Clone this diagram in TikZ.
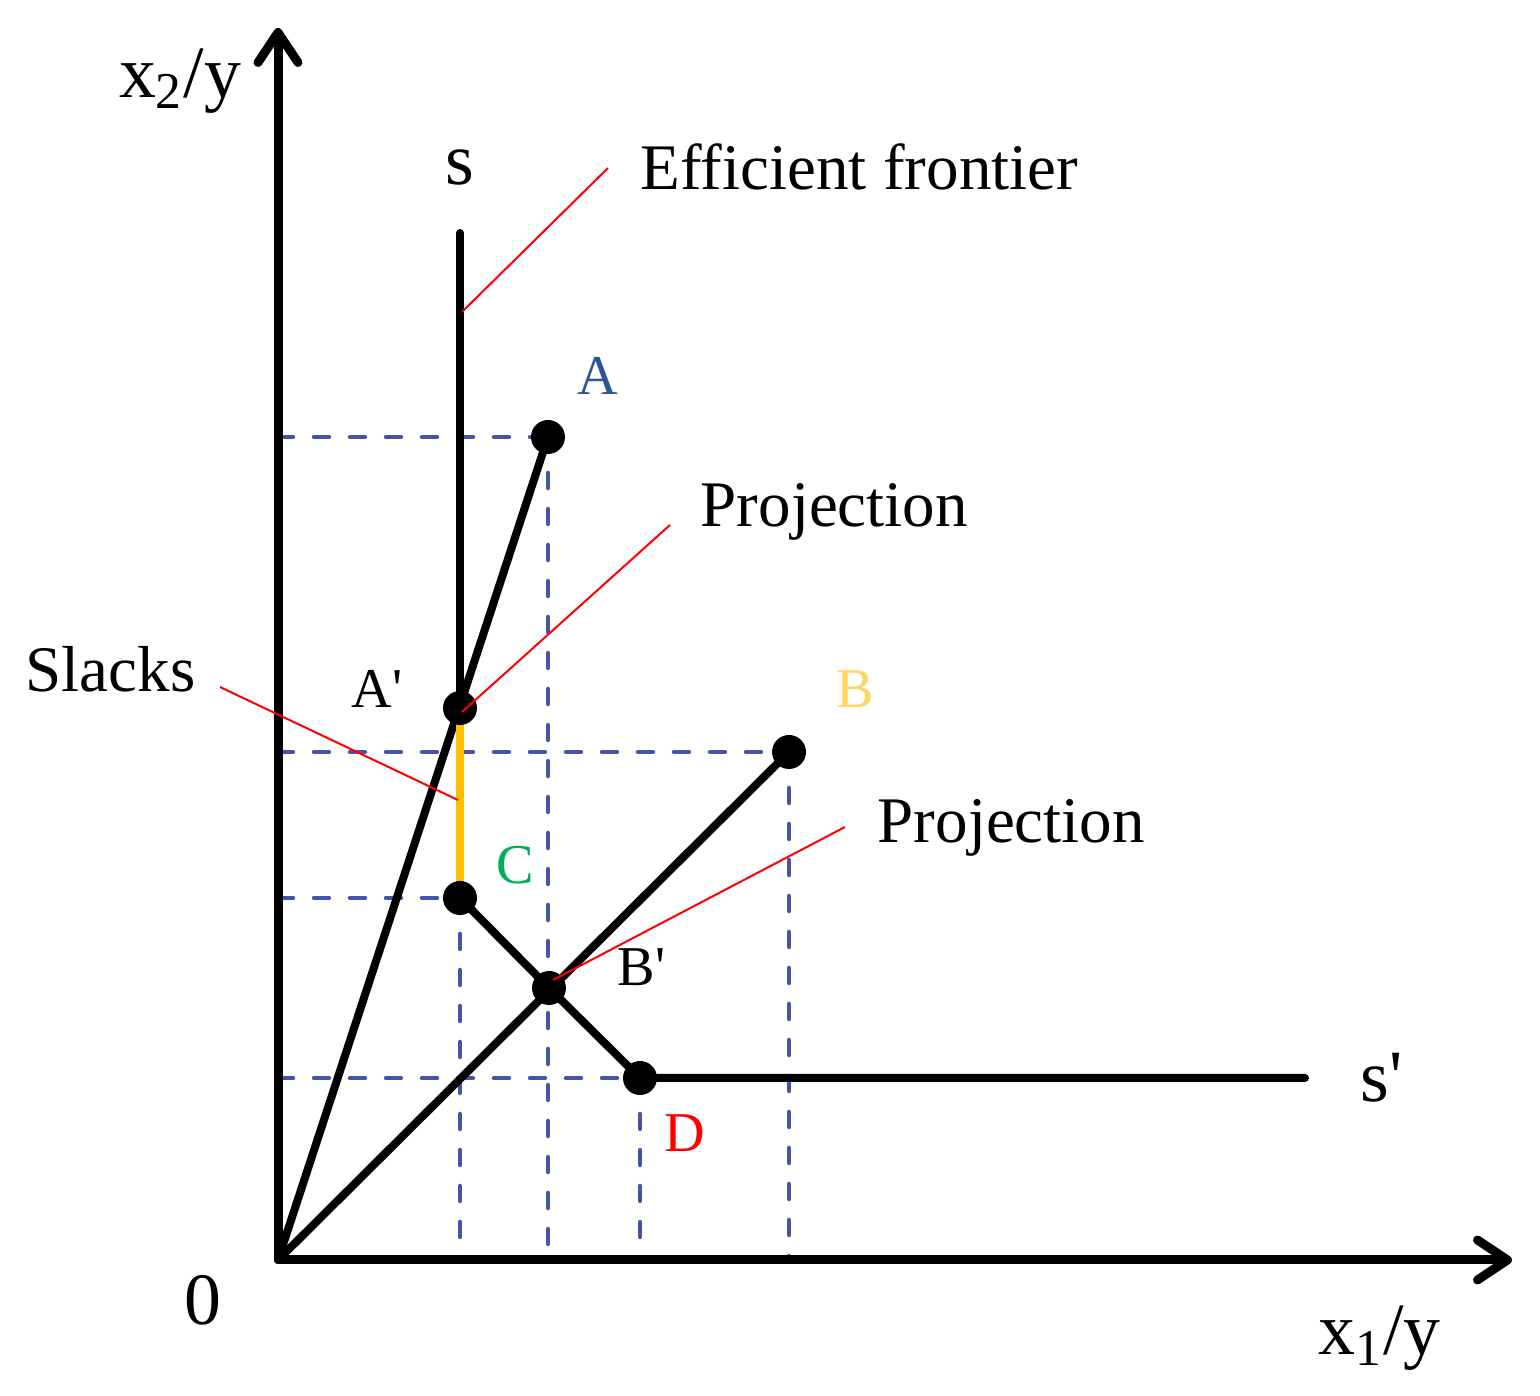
\documentclass[tikz,border=0pt]{standalone}
\usepackage{fontspec}
\setmainfont{Liberation Serif}
\usetikzlibrary{arrows.meta}

\definecolor{dashblue}{RGB}{68,84,168}
\definecolor{labelblue}{RGB}{47,85,151}
\definecolor{labelgold}{RGB}{255,214,100}
\definecolor{slackorange}{RGB}{255,192,0}
\definecolor{labelgreen}{RGB}{0,176,80}

\begin{document}
\begin{tikzpicture}[
    axis/.style={line width=0.09cm, -{Straight Barb[length=3mm, width=4mm, round]}},
    frontier/.style={line width=0.08cm, line cap=round},
    guide/.style={dashblue, line width=0.045cm, line cap=round, dash pattern=on 0.15cm off 0.21cm},
    leader/.style={red, line width=0.02cm},
    dot/.style={circle, fill=black, inner sep=0pt, minimum size=0.34cm},
    big/.style={inner sep=0pt, font=\fontsize{21}{24}\selectfont},
    mid/.style={inner sep=0pt, font=\fontsize{18.5}{21}\selectfont},
    small/.style={inner sep=0pt, font=\fontsize{16}{19}\selectfont}
  ]
    \useasboundingbox (0,0) rectangle (15.4,13.96);

    % points
    \coordinate (O) at (2.78, 1.36);
    \coordinate (ytip) at (2.78, 13.68);
    \coordinate (xtip) at (15.12, 1.36);
    \coordinate (stop) at (4.60, 11.63);
    \coordinate (A) at (5.48, 9.59);
    \coordinate (Ap) at (4.60, 6.88);
    \coordinate (B) at (7.89, 6.44);
    \coordinate (C) at (4.60, 4.98);
    \coordinate (Bp) at (5.49, 4.08);
    \coordinate (D) at (6.40, 3.18);
    \coordinate (send) at (13.05, 3.18);

    % dashed guides
    \draw[guide] (O |- A) -- (A);
    \draw[guide] (O |- B) -- (B);
    \draw[guide] (O |- C) -- (C);
    \draw[guide] (O |- D) -- (D);
    \draw[guide] (C) -- (C |- O);
    \draw[guide] (A) -- (A |- O);
    \draw[guide] (D) -- (D |- O);
    \draw[guide] (B) -- (B |- O);

    % axes
    \draw[axis] (O) -- (ytip);
    \draw[axis] (O) -- (xtip);

    % frontier and rays
    \draw[frontier] (stop) -- (Ap);
    \draw[frontier] (O) -- (A);
    \draw[frontier] (O) -- (B);
    \draw[frontier] (C) -- (Bp) -- (D) -- (send);
    \draw[slackorange, line width=0.08cm] (Ap) -- (C);

    \node[dot] (nA) at (A) {};
    \node[dot] (nAp) at (Ap) {};
    \node[dot] (nB) at (B) {};
    \node[dot] (nC) at (C) {};
    \node[dot] (nBp) at (Bp) {};
    \node[dot] (nD) at (D) {};

    % labels
    \node[big, anchor=base] at (1.80, 12.98) (ylab) {x\textsubscript{2}/y};
    \node[big, anchor=base west] at (13.18, 0.41) (xlab) {x\textsubscript{1}/y};
    \node[big, anchor=base] at (2.03, 0.71) (zero) {0};
    \node[big, anchor=base] at (4.60, 12.11) (s) {s};
    \node[big, anchor=base west] at (13.60, 2.94) (sp) {s\textquotesingle};
    \node[mid, anchor=base west] at (6.40, 12.06) (eff) {Efficient frontier};
    \node[mid, anchor=base west] at (7.00, 8.69) (proj1) {Projection};
    \node[mid, anchor=base west] at (0.25, 7.04) (slk) {Slacks};
    \node[mid, anchor=base west] at (8.77, 5.53) (proj2) {Projection};
    \node[small, labelblue, anchor=base] at (5.98, 10.01) (lA) {A};
    \node[small, anchor=base] at (3.77, 6.88) (lAp) {A\textquotesingle};
    \node[small, labelgold, anchor=base] at (8.55, 6.88) (lB) {B};
    \node[small, labelgreen, anchor=base] at (5.15, 5.12) (lC) {C};
    \node[small, anchor=base west] at (6.17, 4.10) (lBp) {B\textquotesingle};
    \node[small, red, anchor=base] at (6.85, 2.44) (lD) {D};

    %leader lines
    \coordinate (effend) at (4.62, 10.84);
    \coordinate (proj1end) at (4.62, 6.84);
    \coordinate (slkend) at (4.58, 5.96);
    \coordinate (proj2end) at (5.53, 4.16);
    \coordinate (effstart) at (6.08, 12.28);
    \coordinate (proj1start) at (6.70, 8.71);
    \coordinate (slkstart) at (2.20, 7.09);
    \coordinate (proj2start) at (8.45, 5.69);
    \draw[leader] (effstart) -- (effend);
    \draw[leader] (proj1start) -- (proj1end);
    \draw[leader] (slkstart) -- (slkend);
    \draw[leader] (proj2start) -- (proj2end);

\end{tikzpicture}
\end{document}
